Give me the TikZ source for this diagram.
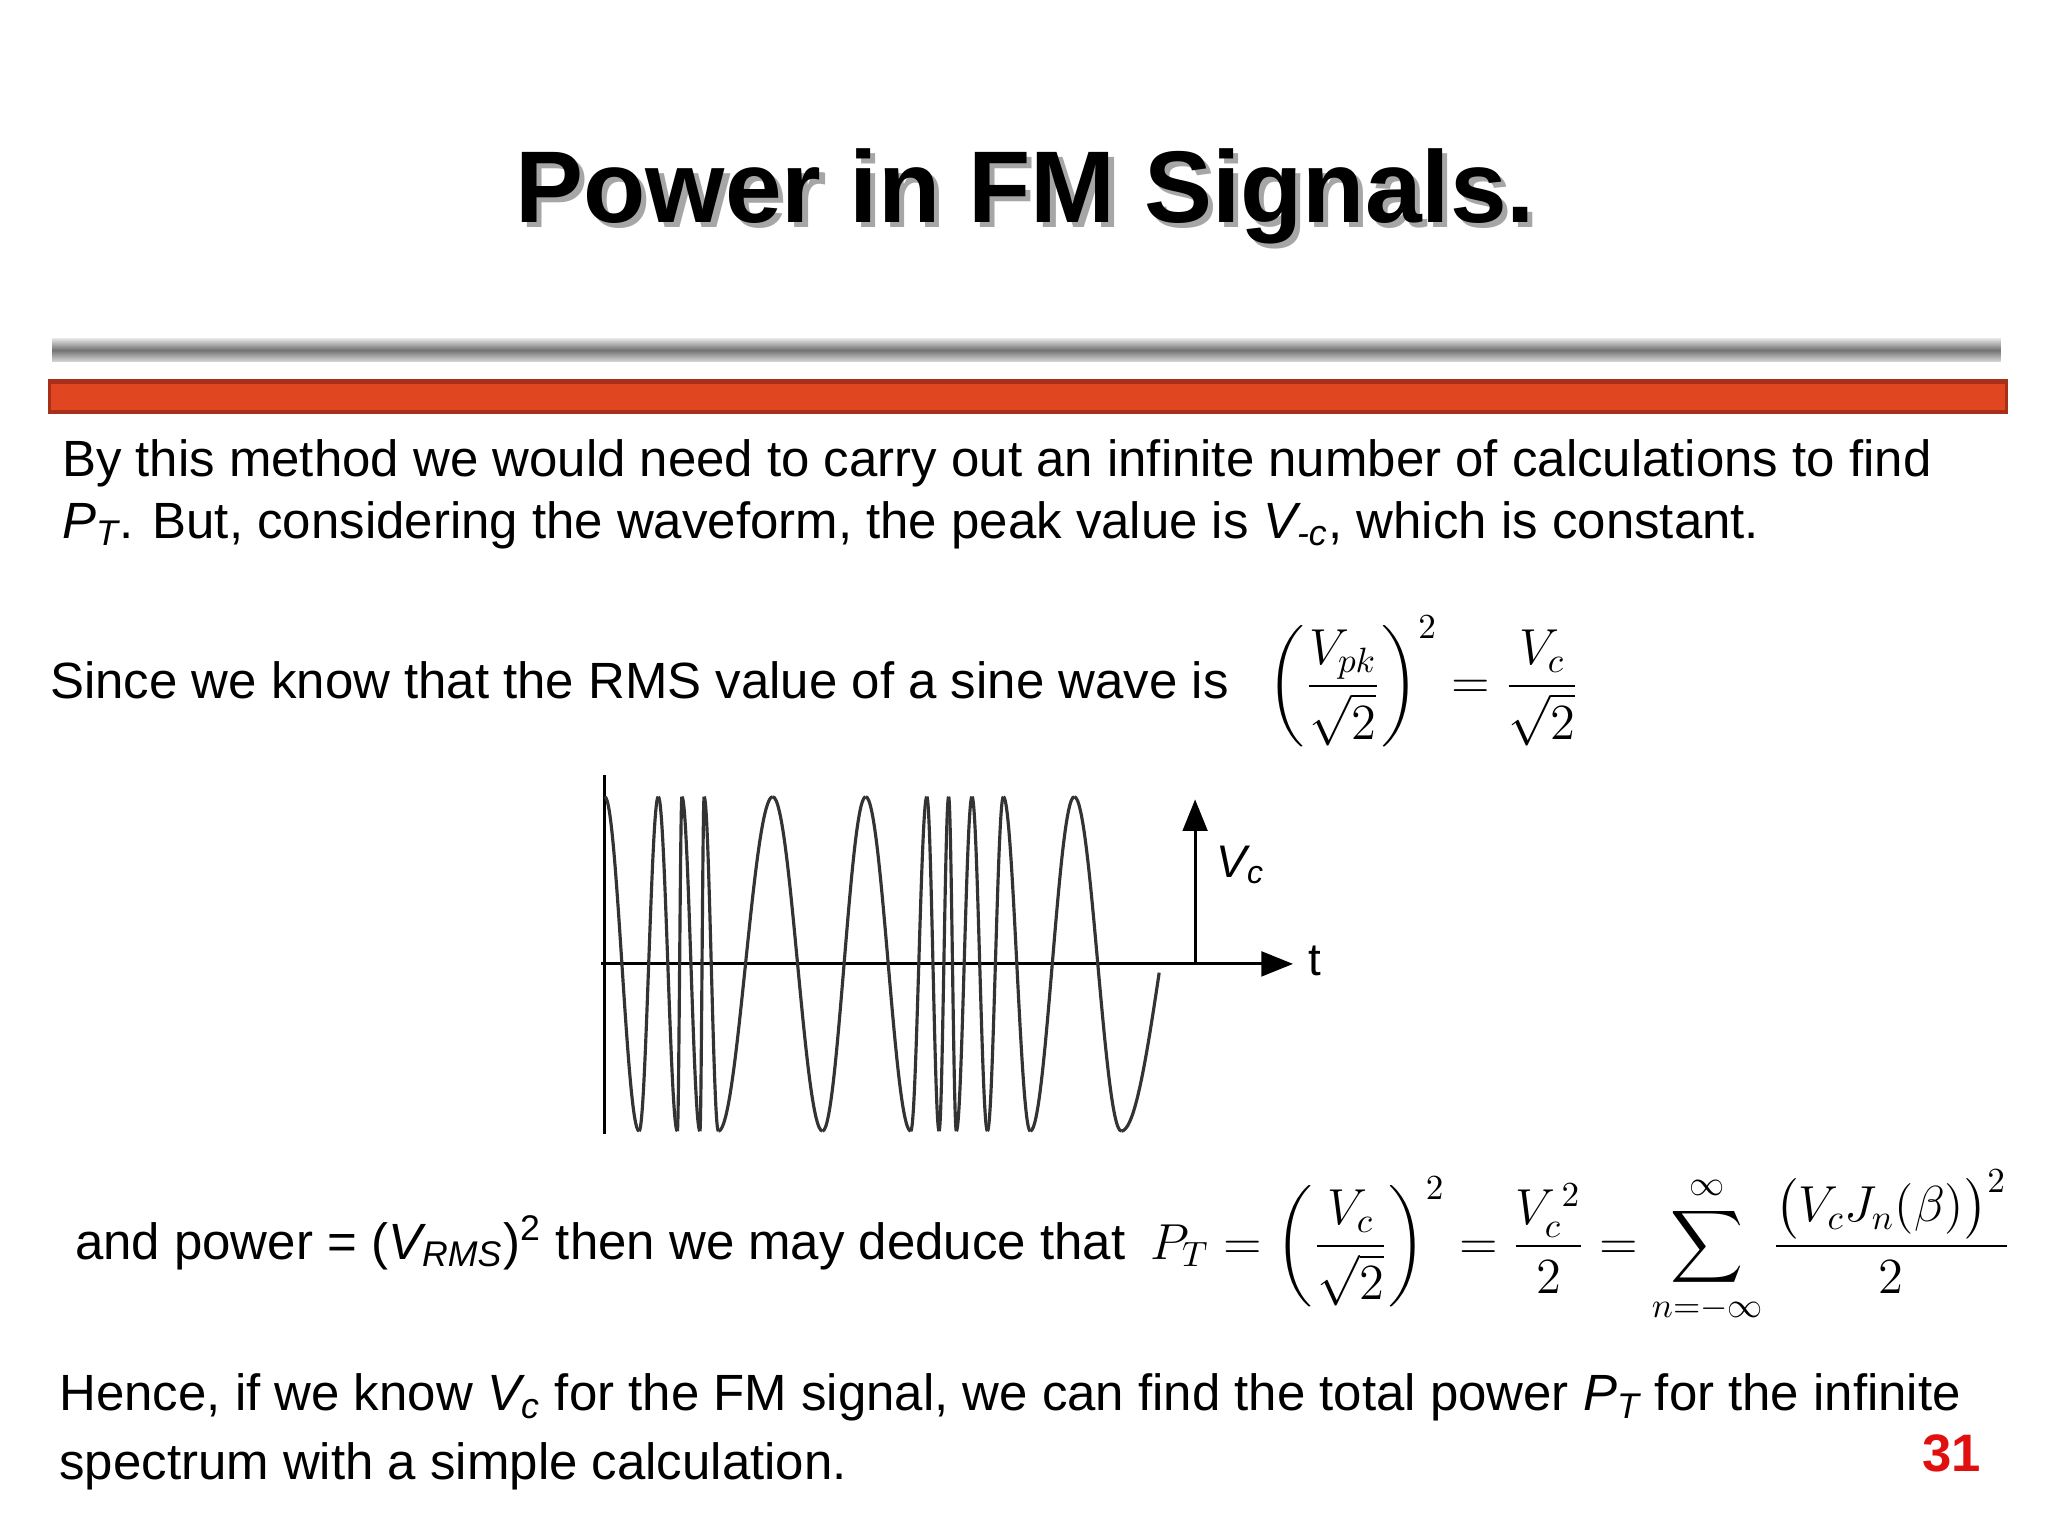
\documentclass[tikz,border=0pt]{standalone}
\usepackage{fontspec}
\setmainfont{Liberation Sans}
\usepackage{amsmath}
\usetikzlibrary{arrows.meta}
\definecolor{barred}{HTML}{E0461F}
\definecolor{bardark}{HTML}{A8301A}
\definecolor{pgred}{HTML}{E01010}
\tikzset{
  body/.style={anchor=base west, inner sep=0pt, font=\fontsize{14.5}{17}\selectfont},
  wave/.style={line width=0.9pt, black!80},
  axis/.style={line width=0.9pt, black},
  mathbox/.style={anchor=base west, inner sep=0pt, font=\fontsize{14}{17}\selectfont}
}
\begin{document}
\begin{tikzpicture}[x=0.013061cm, y=-0.013061cm]
\useasboundingbox (0,0) rectangle (1568,1176);
% title
\node[font=\fontsize{29}{34}\bfseries\selectfont, text=black!35] (titleshadow) at (789,154) {Power in FM Signals.};
\node[font=\fontsize{29}{34}\bfseries\selectfont] (title) at (785,150) {Power in FM Signals.};
% bars
\shade[top color=black!10, bottom color=black!15, middle color=black!55] (40,259) rectangle (1532,277);
\fill[bardark] (37,290) rectangle (1537,317);
\fill[barred] (39,294) rectangle (1535,314);
% text
\node[body] (l1) at (47,365) {By this method we would need to carry out an infinite number of calculations to find};
\node[body] (l2) at (47,412) {\textit{P\textsubscript{T}}. But, considering the waveform, the peak value is \textit{V\textsubscript{-c}}, which is constant.};
\node[body] (l3) at (38,535) {Since we know that the RMS value of a sine wave is};
\node[mathbox] (m1) at (970,535) {$\displaystyle \left(\frac{V_{pk}}{\sqrt{2}}\right)^{2} = \frac{V_c}{\sqrt{2}}$};
\node[body] (l4) at (57,964) {and power = (\textit{V\textsubscript{RMS}})\textsuperscript{2} then we may deduce that};
\node[mathbox, font=\fontsize{13.6}{17}\selectfont] (m2) at (880,964) {$\displaystyle P_T = \left(\frac{V_c}{\sqrt{2}}\right)^{2} = \frac{V_c^{\,2}}{2} = \sum_{n=-\infty}^{\infty}\frac{\bigl(V_cJ_n(\beta)\bigr)^2}{2}$};
\node[body] (l5) at (45,1080) {Hence, if we know \textit{V\textsubscript{c}} for the FM signal, we can find the total power \textit{P\textsubscript{T}} for the infinite};
\node[body] (l6) at (45,1133) {spectrum with a simple calculation.};
\node[anchor=base east, inner sep=0pt, font=\fontsize{15}{18}\bfseries\selectfont, text=pgred] (pg) at (1517,1127) {31};
% axes
\coordinate (yb) at (463,868); \coordinate (yt) at (463,593);
\draw[axis] (yb) -- (yt);
\coordinate (xs) at (460,738); \coordinate (xe) at (990,738);
\draw[axis,-{Triangle[length=9pt,width=7pt]}] (xs) -- (xe);
\node[anchor=west, font=\fontsize{13}{15}\selectfont] (tl) at (992,736) {t};
\coordinate (vb) at (915,738); \coordinate (vt) at (915,612);
\draw[axis,-{Triangle[length=9pt,width=7pt]}] (vb) -- (vt);
\node[font=\fontsize{13}{15}\itshape\selectfont] (vc) at (950,662) {V\textsubscript{c}};
% waveform
\foreach \a/\b/\s in {463/489.3/-1, 489.3/504/1, 504/518.6/-1, 518.6/522.1/1, 522.1/535.9/-1, 535.9/539.1/1, 539.1/550/-1, 550/591.6/1, 591.6/629.7/-1, 629.7/662.8/1, 662.8/697.3/-1, 697.3/709.6/1, 709.6/719/-1, 719/726.3/1, 726.3/732.2/-1, 732.2/744.2/1, 744.2/756/-1, 756/768.2/1, 768.2/788.8/-1, 788.8/822.5/1, 822.5/858.5/-1}
  \draw[wave] plot[domain=\a:\b, samples=30, smooth] (\x, {738 + \s*128*cos(180*(\x-\a)/(\b-\a))});
\draw[wave] plot[domain=858.5:887.5, samples=20, smooth] (\x, {738 + 128*cos(180*(\x-858.5)/60)});
\end{tikzpicture}
\end{document}
